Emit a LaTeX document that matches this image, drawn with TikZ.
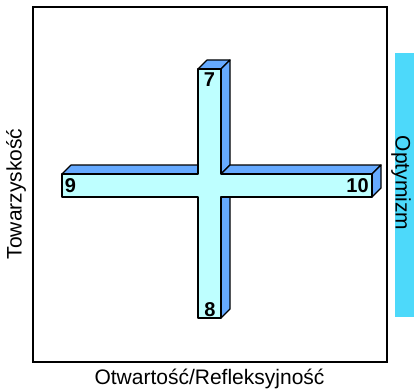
\documentclass[tikz,border=0pt]{standalone}
\usepackage{fontspec}
\setmainfont{Liberation Sans}
\definecolor{frontc}{RGB}{190,255,255}
\definecolor{sidec}{RGB}{102,170,255}
\definecolor{barc}{RGB}{77,217,250}
\tikzset{
  face/.style={draw=black,line width=1.2pt,line join=round},
  numlbl/.style={font=\fontsize{20}{20}\selectfont\bfseries,inner sep=0pt},
  axlbl/.style={font=\fontsize{21}{21}\selectfont,inner sep=0pt}
}
\begin{document}
\begin{tikzpicture}[x=1pt,y=-1pt]
\useasboundingbox (0,0) rectangle (414,390);
% optimism bar
\fill[barc] (395,53) rectangle (414,317);
% frame
\draw[line width=2pt] (33,7) rectangle (387,362);
% cross: side and top faces
\draw[face,fill=sidec] (62,174) -- (71,165) -- (198,165) -- (198,174) -- cycle;
\draw[face,fill=sidec] (198,69) -- (207,60) -- (230,60) -- (221,69) -- cycle;
\draw[face,fill=sidec] (221,69) -- (230,60) -- (230,165) -- (221,174) -- cycle;
\draw[face,fill=sidec] (221,174) -- (230,165) -- (381,165) -- (372,174) -- cycle;
\draw[face,fill=sidec] (372,174) -- (381,165) -- (381,188) -- (372,197) -- cycle;
\draw[face,fill=sidec] (221,197) -- (230,188) -- (230,309) -- (221,318) -- cycle;
% cross: front face
\draw[face,fill=frontc] (198,69) -- (221,69) -- (221,174) -- (372,174) -- (372,197)
  -- (221,197) -- (221,318) -- (198,318) -- (198,197) -- (62,197) -- (62,174)
  -- (198,174) -- cycle;
% labels
\node[numlbl] (n7) at (209.5,80) {7};
\node[numlbl] (n8) at (210,310) {8};
\node[numlbl] (n9) at (70.5,186) {9};
\node[numlbl] (n10) at (357.5,186) {10};
\node[axlbl,rotate=90] (tow) at (16,194) {Towarzyskość};
\node[axlbl,rotate=-90] (opt) at (401,183) {Optymizm};
\node[axlbl] (otw) at (209.5,379) {Otwartość/Refleksyjność};
\end{tikzpicture}
\end{document}
